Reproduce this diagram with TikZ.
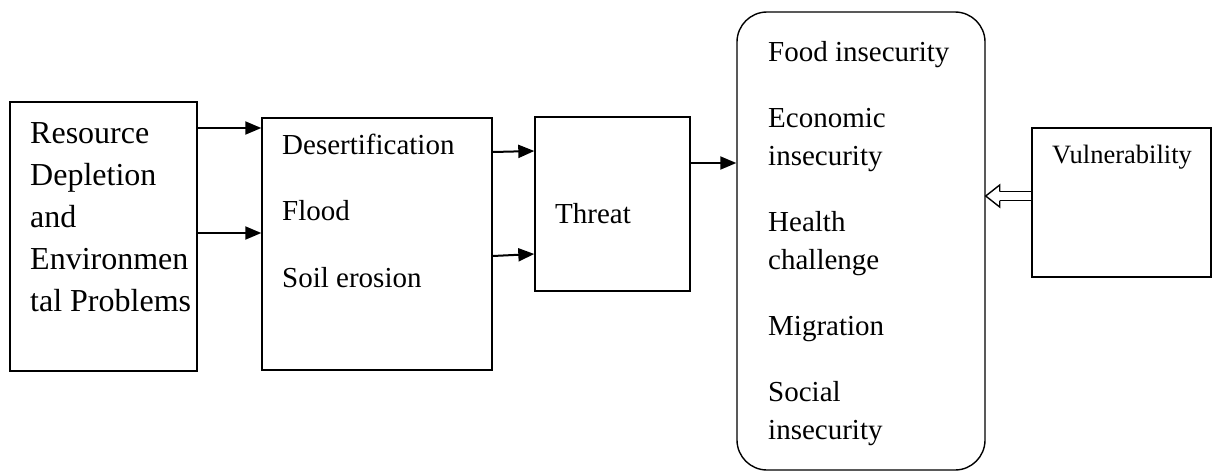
\documentclass[tikz,border=0pt]{standalone}
\usepackage{fontspec}
\setmainfont{Liberation Serif}
\usetikzlibrary{arrows.meta,positioning,calc}

\begin{document}
\begin{tikzpicture}[x=1pt,y=-1pt,
caja/.style={draw,line width=1.4pt,inner sep=0pt},
txt/.style={anchor=base west,align=left,inner sep=0pt,font=\fontsize{29}{38}\selectfont},
arr/.style={-{Triangle[length=16pt,width=13pt]},line width=2pt},
dbl/.style={double,double distance=7.5pt,line width=1.4pt}
]
\useasboundingbox (0,0) rectangle (1212,472);

\node[caja,minimum width=187pt,minimum height=269pt] (recursos) at (103.5,236.5) {};
\node[caja,minimum width=230pt,minimum height=252pt] (peligros) at (377,244) {};
\node[caja,minimum width=155pt,minimum height=174pt] (amenaza) at (612.5,204) {};
\node[caja,rounded corners=30pt,minimum width=248pt,minimum height=458pt] (efectos) at (861,241) {};
\node[caja,minimum width=179pt,minimum height=149pt] (vulner) at (1121.5,202.5) {};

% base = last line of each text block
\node[txt,font=\fontsize{32}{42}\selectfont] (recursostxt) at (30,311)
  {Resource\\Depletion\\and\\Environmen\\tal Problems};
\node[txt] (peligrostxt) at (282,287) {Desertification\\[28.5pt]Flood\\[28.5pt]Soil erosion};
\node[txt] (amenazatxt) at (555,223) {Threat};
\node[txt] (efectostxt) at (768,439)
  {Food insecurity\\[28pt]Economic\\insecurity\\[28pt]Health\\challenge\\[28pt]Migration\\[28pt]Social\\insecurity};
\node[txt,anchor=base,font=\fontsize{26.5}{30}\selectfont] (vulnertxt) at (1122,163) {Vulnerability};

\draw[arr] (recursos.east |- 0,128) -- (peligros.west |- 0,128);
\draw[arr] (recursos.east |- 0,233) -- (peligros.west |- 0,233);
\draw[arr] (peligros.east |- 0,152) -- (amenaza.west |- 0,151);
\draw[arr] (peligros.east |- 0,256) -- (amenaza.west |- 0,254);
\draw[arr] (amenaza.east |- 0,163) -- (efectos.west |- 0,163);

\coordinate (punta) at (efectos.east |- 0,196);
\draw[dbl] (vulner.west |- 0,196) -- ($(punta)+(14pt,0)$);
\draw[line width=1.4pt] ($(punta)+(14pt,4.5pt)$) -- ($(punta)+(14pt,11pt)$) -- (punta)
  -- ($(punta)+(14pt,-11pt)$) -- ($(punta)+(14pt,-4.5pt)$);
\end{tikzpicture}
\end{document}
